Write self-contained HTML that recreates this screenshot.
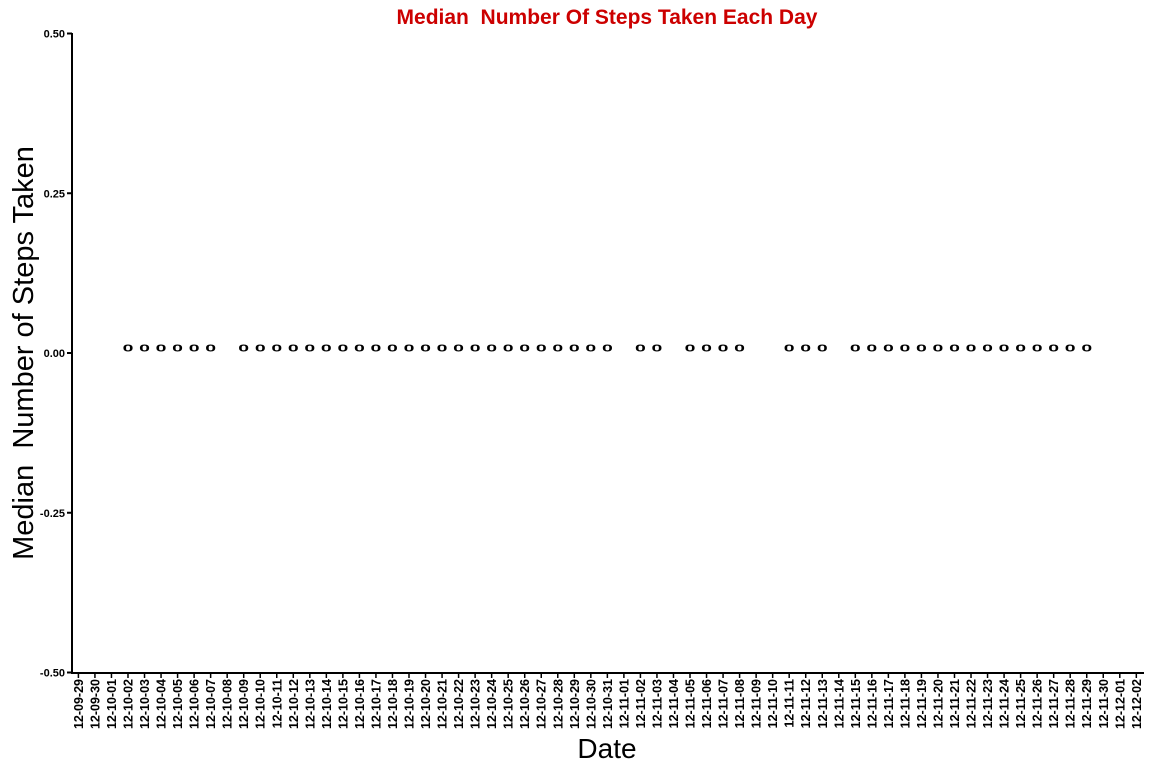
<!DOCTYPE html>
<html><head><meta charset="utf-8"><style>
html,body{margin:0;padding:0;background:#fff;}
svg text{font-family:"Liberation Sans",sans-serif;white-space:pre;}
</style></head><body>
<svg id="chart" width="1152" height="768" xmlns="http://www.w3.org/2000/svg" xml:space="preserve">
<text x="607" y="24" text-anchor="middle" font-size="21" font-weight="bold" fill="#cc0000">Median  Number Of Steps Taken Each Day</text>
<text transform="translate(33,353) rotate(-90)" text-anchor="middle" font-size="29" fill="#000">Median  Number of Steps Taken</text>
<text x="607" y="758" text-anchor="middle" font-size="28" fill="#000">Date</text>
<g id="axes"></g>
<g id="marks"></g>
</svg>
<script>
const categories=["12-09-29","12-09-30","12-10-01","12-10-02","12-10-03","12-10-04","12-10-05","12-10-06","12-10-07","12-10-08","12-10-09","12-10-10","12-10-11","12-10-12","12-10-13","12-10-14","12-10-15","12-10-16","12-10-17","12-10-18","12-10-19","12-10-20","12-10-21","12-10-22","12-10-23","12-10-24","12-10-25","12-10-26","12-10-27","12-10-28","12-10-29","12-10-30","12-10-31","12-11-01","12-11-02","12-11-03","12-11-04","12-11-05","12-11-06","12-11-07","12-11-08","12-11-09","12-11-10","12-11-11","12-11-12","12-11-13","12-11-14","12-11-15","12-11-16","12-11-17","12-11-18","12-11-19","12-11-20","12-11-21","12-11-22","12-11-23","12-11-24","12-11-25","12-11-26","12-11-27","12-11-28","12-11-29","12-11-30","12-12-01","12-12-02"];
const missing=["12-09-29","12-09-30","12-10-01","12-10-08","12-11-01","12-11-04","12-11-09","12-11-10","12-11-14","12-11-30","12-12-01","12-12-02"];
const medianValues=categories.map(c=>missing.includes(c)?null:0);
const yTicks=[-0.5,-0.25,0,0.25,0.5];
const yTickLabels=["-0.50","-0.25","0.00","0.25","0.50"];
const NS="http://www.w3.org/2000/svg";
const x=i=>78.4+i*16.53;
const y=v=>353-v*639;
const axes=document.getElementById('axes'),marks=document.getElementById('marks');
function mk(tag,attrs,parent,txt){const e=document.createElementNS(NS,tag);for(const k in attrs)e.setAttribute(k,attrs[k]);if(txt!==undefined)e.textContent=txt;parent.appendChild(e);return e;}
let l=mk('line',{x1:72,y1:33,x2:72,y2:674,stroke:'#000','stroke-width':2},axes);


l=mk('line',{x1:71,y1:673,x2:1144,y2:673,stroke:'#000','stroke-width':2},axes);


yTicks.forEach((v,i)=>{
 let t=mk('line',{x1:67,y1:y(v),x2:72,y2:y(v),stroke:'#000','stroke-width':2},axes);
 
 
 let tx=mk('text',{x:65,y:y(v)+4,'text-anchor':'end','font-size':11,'font-weight':'bold'},axes,yTickLabels[i]);
 
 
});
categories.forEach((c,i)=>{
 let t=mk('line',{x1:x(i),y1:673,x2:x(i),y2:678,stroke:'#000','stroke-width':1.5},axes);
 
 
 let tx=mk('text',{transform:`translate(${x(i)+4.5},679) rotate(-90)`,'text-anchor':'end','font-size':12.5,'font-weight':'bold'},axes,c);
 
 
 const v=medianValues[i];
 if(v!==null){
  let m=mk('text',{transform:`translate(${x(i)},${y(v)-1.5}) scale(1.5,0.75)`,'text-anchor':'middle','font-size':13,'font-weight':'bold'},marks,String(v));
  
  
 }
});
</script>
</body></html>
